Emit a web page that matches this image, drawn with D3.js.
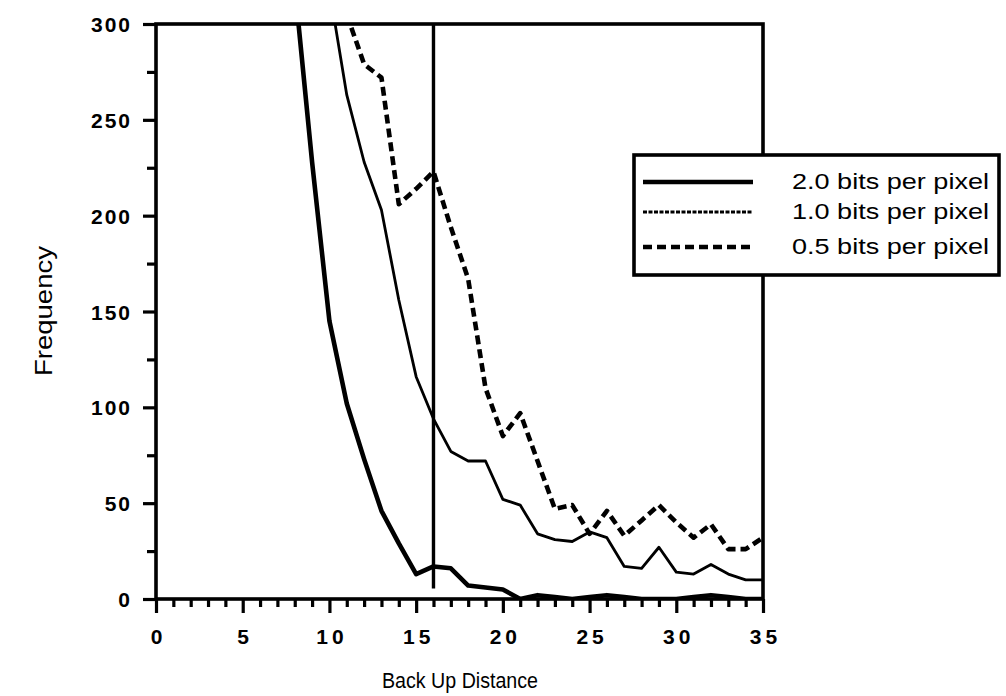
<!DOCTYPE html>
<html><head><meta charset="utf-8">
<script src="https://cdn.jsdelivr.net/npm/d3@7/dist/d3.min.js"></script>
<style>
html,body{margin:0;padding:0;background:#fff;}
svg{display:block;}
</style></head>
<body>
<svg id="chart" width="1006" height="696"></svg>
<script>
// ---- data ----
const xTicks = [0,5,10,15,20,25,30,35];
const yTicks = [0,50,100,150,200,250,300];
const seriesNames = ["2.0 bits per pixel","1.0 bits per pixel","0.5 bits per pixel"];
const x20 = [8,9,10,11,12,13,14,15,16,17,18,19,20,21,22,23,24,25,26,27,28,29,30,31,32,33,34,35];
const v20 = [320,228,145,102,73,46,29,13,17,16,7,6,5,0,2,1,0,1,2,1,0,0,0,1,2,1,0,0];
const x10 = [10,11,12,13,14,15,16,17,18,19,20,21,22,23,24,25,26,27,28,29,30,31,32,33,34,35];
const v10 = [318,263,228,203,156,116,94,77,72,72,52,49,34,31,30,35,32,17,16,27,14,13,18,13,10,10];
const x05 = [11,12,13,14,15,16,17,18,19,20,21,22,23,24,25,26,27,28,29,30,31,32,33,34,35];
const v05 = [305,279,272,206,214,223,194,167,110,85,97,72,47,49,34,46,33,41,49,40,32,39,26,26,32];
const markerX = 16;
const markerRange = [5.5, 300];
const xLabel = "Back Up Distance";
const yLabel = "Frequency";

// ---- layout ----
const svg = d3.select("#chart");
const L = 156, R = 763, T = 24, B = 599;
const x = d3.scaleLinear().domain([0,35]).range([L,R]);
const y = d3.scaleLinear().domain([0,300]).range([B,T]);
const FONT = "Liberation Sans, Arial, Helvetica, sans-serif";

svg.append("defs").append("clipPath").attr("id","plotclip")
  .append("rect").attr("x",L).attr("y",T).attr("width",R-L).attr("height",B-T);

const styles = [
  {w:4.6, dash:null},
  {w:2.8, dash:null},
  {w:4.6, dash:"9,5"}
];
const series = [
  x20.map((d,i)=>[d,v20[i]]),
  x10.map((d,i)=>[d,v10[i]]),
  x05.map((d,i)=>[d,v05[i]])
];
const line = d3.line().x(d=>x(d[0])).y(d=>y(d[1]));

const g = svg.append("g").attr("clip-path","url(#plotclip)");
series.forEach((s,i)=>{
  g.append("path").attr("d",line(s)).attr("fill","none").attr("stroke","#000")
   .attr("stroke-width",styles[i].w).attr("stroke-linejoin","round")
   .attr("stroke-dasharray",styles[i].dash);
});

// marker vertical line
svg.append("line").attr("x1",x(markerX)).attr("x2",x(markerX))
  .attr("y1",y(markerRange[1])).attr("y2",y(markerRange[0]))
  .attr("stroke","#000").attr("stroke-width",3.4);

// axes
const xAxis = d3.axisBottom(x).tickValues(d3.range(0,36,1)).tickSize(7).tickFormat("");
const gx = svg.append("g").attr("transform",`translate(0,${B})`).call(xAxis);
gx.select(".domain").remove();
gx.selectAll(".tick line").attr("stroke","#000").attr("stroke-width",3.2)
  .attr("y2",d=>d%5===0?14:8);
const xl = svg.append("g").attr("transform",`translate(0,${B})`)
  .call(d3.axisBottom(x).tickValues(xTicks).tickSize(0).tickPadding(0).tickFormat(d3.format("d")));
xl.select(".domain").remove();
xl.selectAll("text").attr("y",45).attr("dy",null).attr("font-family",FONT)
  .attr("font-size",21).attr("font-weight","bold").attr("fill","#000")
  .attr("letter-spacing",d=>d>=10?"4px":"0px").attr("dx",d=>d>=10?"2px":"0px");

const yAxis = d3.axisLeft(y).tickValues(d3.range(0,301,25)).tickSize(8).tickFormat("");
const gy = svg.append("g").attr("transform",`translate(${L},0)`).call(yAxis);
gy.select(".domain").remove();
gy.selectAll(".tick line").attr("stroke","#000").attr("stroke-width",3.2)
  .attr("x2",d=>d%50===0?-13:-9);
const yl = svg.append("g").attr("transform",`translate(${L},0)`)
  .call(d3.axisLeft(y).tickValues(yTicks).tickSize(0).tickPadding(24).tickFormat(d3.format("d")));
yl.select(".domain").remove();
yl.selectAll("text").attr("font-family",FONT)
  .attr("font-size",21).attr("font-weight","bold").attr("fill","#000")
  .attr("dy","0.36em").attr("letter-spacing","2px");

// frame
svg.append("rect").attr("x",L).attr("y",T).attr("width",R-L).attr("height",B-T)
  .attr("fill","none").attr("stroke","#000").attr("stroke-width",3.6);

// axis titles
svg.append("text").attr("x",460).attr("y",688).attr("text-anchor","middle")
  .attr("font-family",FONT).attr("font-size",22)
  .attr("textLength",156).attr("lengthAdjust","spacingAndGlyphs").text(xLabel);
svg.append("text").attr("transform","translate(52,311) rotate(-90)").attr("text-anchor","middle")
  .attr("font-family",FONT).attr("font-size",23)
  .attr("textLength",130).attr("lengthAdjust","spacingAndGlyphs").text(yLabel);

// legend
const lg = svg.append("g");
lg.append("rect").attr("x",634).attr("y",155).attr("width",365).attr("height",120)
  .attr("fill","#fff").attr("stroke","#000").attr("stroke-width",3.6);
const rows = [182,212,247];
const legendStyles = [
  {w:4.4, dash:null},
  {w:3, dash:"4,1.5"},
  {w:4.4, dash:"9,5"}
];
seriesNames.forEach((n,i)=>{
  lg.append("line").attr("x1",643).attr("x2",753).attr("y1",rows[i]).attr("y2",rows[i])
    .attr("stroke","#000").attr("stroke-width",legendStyles[i].w).attr("stroke-dasharray",legendStyles[i].dash);
  lg.append("text").attr("x",792).attr("y",rows[i]+7)
    .attr("font-family",FONT).attr("font-size",22)
    .attr("textLength",197).attr("lengthAdjust","spacingAndGlyphs").text(n);
});
</script>
</body></html>
